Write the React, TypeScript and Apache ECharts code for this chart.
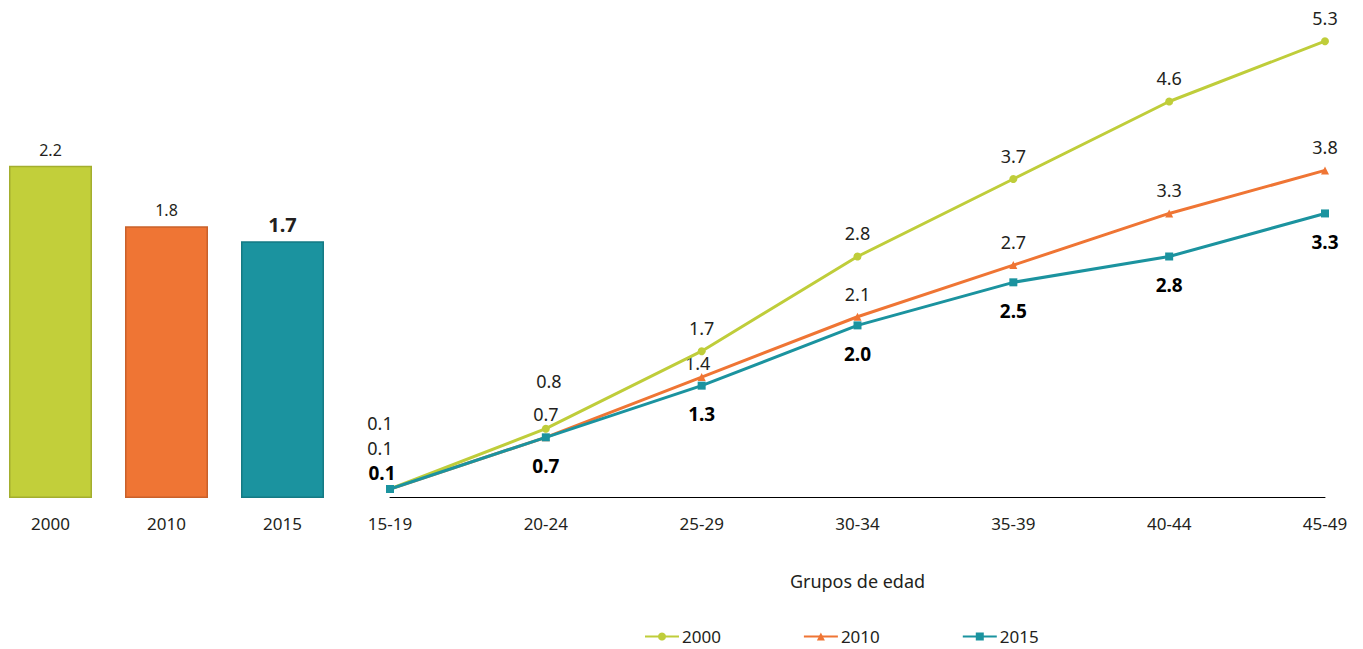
import React, { useEffect, useRef } from "react";
import * as echarts from "echarts";

const barYears = ["2000", "2010", "2015"];
const barValues = [2.2, 1.8, 1.7];
const barColors = ["#c2cf3a", "#ef7534", "#1b939f"];
const barBorders = ["#a3ae2e", "#c9612a", "#157a84"];

const ageGroups = ["15-19", "20-24", "25-29", "30-34", "35-39", "40-44", "45-49"];
const s2000 = [0.1, 0.8, 1.7, 2.8, 3.7, 4.6, 5.3];
const s2010 = [0.1, 0.7, 1.4, 2.1, 2.7, 3.3, 3.8];
const s2015 = [0.1, 0.7, 1.3, 2.0, 2.5, 2.8, 3.3];

const FONT = "Noto Sans";
const TXT = "#231f20";

export default function App() {
  const ref = useRef<HTMLDivElement>(null);
  useEffect(() => {
    if (!ref.current) return;
    const chart = echarts.init(ref.current, null, { renderer: "svg" });
    const fmt = (p: any) => Number(p.value).toFixed(1);
    const d2000 = s2000.map((v, i) => {
      if (i === 0) return { value: v, label: { offset: [-10, -43] } };
      if (i === 1) return { value: v, label: { offset: [3, -25] } };
      return v;
    });
    const d2010 = s2010.map((v, i) => {
      if (i === 0) return { value: v, label: { offset: [-10, -18] } };
      if (i === 2) return { value: v, label: { offset: [-4, 9] } };
      return v;
    });
    const d2015 = s2015.map((v, i) => {
      if (i === 0) return { value: v, label: { position: "top", distance: 2, offset: [-8, 0] } };
      return v;
    });
    chart.setOption({
      animation: false,
      textStyle: { fontFamily: FONT, color: TXT },
      legend: {
        top: 628,
        left: 644,
        padding: 0,
        itemWidth: 34,
        itemHeight: 10,
        itemGap: 82,
        textStyle: { fontFamily: FONT, fontSize: 17, lineHeight: 17, color: TXT, padding: [0, 0, 0, -2] },
        data: ["2000", "2010", "2015"],
      },
      grid: [
        { left: 50.5, width: 232, top: 45, bottom: 151 },
        { left: 390, right: 38, top: 24, bottom: 151.4 },
      ],
      xAxis: [
        {
          type: "category",
          gridIndex: 0,
          data: barYears,
          boundaryGap: false,
          axisLine: { show: false },
          axisTick: { show: false },
          axisLabel: { fontFamily: FONT, fontSize: 17, color: TXT, margin: 17 },
        },
        {
          type: "category",
          gridIndex: 1,
          data: ageGroups,
          boundaryGap: false,
          axisLine: { lineStyle: { color: "#000", width: 1 } },
          axisTick: { show: false },
          axisLabel: { fontFamily: FONT, fontSize: 17, color: TXT, margin: 17 },
          name: "Grupos de edad",
          nameLocation: "middle",
          nameGap: 74,
          nameTextStyle: { fontFamily: FONT, fontSize: 18, color: TXT },
        },
      ],
      yAxis: [
        { type: "value", gridIndex: 0, min: 0, max: 3, show: false, splitLine: { show: false } },
        { type: "value", gridIndex: 1, min: 0, max: 5.5, show: false, splitLine: { show: false } },
      ],
      series: [
        {
          type: "bar",
          xAxisIndex: 0,
          yAxisIndex: 0,
          barWidth: 83,
          clip: false,
          data: barValues.map((v, i) => ({
            value: v,
            itemStyle: { color: barColors[i], borderColor: barBorders[i], borderWidth: 1.5 },
            label:
              i === 2
                ? { fontSize: 20, fontWeight: "bold", distance: 7 }
                : { fontSize: 16, distance: 8 },
          })),
          label: { show: true, position: "top", color: TXT, fontFamily: FONT, formatter: fmt },
        },
        {
          name: "2000",
          type: "line",
          xAxisIndex: 1,
          yAxisIndex: 1,
          data: d2000,
          color: "#bfcd3a",
          symbol: "circle",
          symbolSize: 8,
          lineStyle: { width: 3 },
          label: { show: true, position: "top", distance: 10, fontSize: 18, color: TXT, fontFamily: FONT, formatter: fmt },
          z: 3,
        },
        {
          name: "2010",
          type: "line",
          xAxisIndex: 1,
          yAxisIndex: 1,
          data: d2010,
          color: "#ef7534",
          symbol: "triangle",
          symbolSize: 8,
          lineStyle: { width: 3 },
          label: { show: true, position: "top", distance: 10, fontSize: 18, color: TXT, fontFamily: FONT, formatter: fmt },
          z: 2,
        },
        {
          name: "2015",
          type: "line",
          xAxisIndex: 1,
          yAxisIndex: 1,
          data: d2015,
          color: "#1b939f",
          symbol: "rect",
          symbolSize: 8,
          lineStyle: { width: 3 },
          label: { show: true, position: "bottom", distance: 15, fontSize: 19, fontWeight: "bold", color: "#000", fontFamily: FONT, formatter: fmt },
          z: 4,
        },
      ],
    });
    return () => chart.dispose();
  }, []);
  return <div ref={ref} style={{ width: 1363, height: 649, position: "absolute", left: 0, top: 0 }} />;
}
